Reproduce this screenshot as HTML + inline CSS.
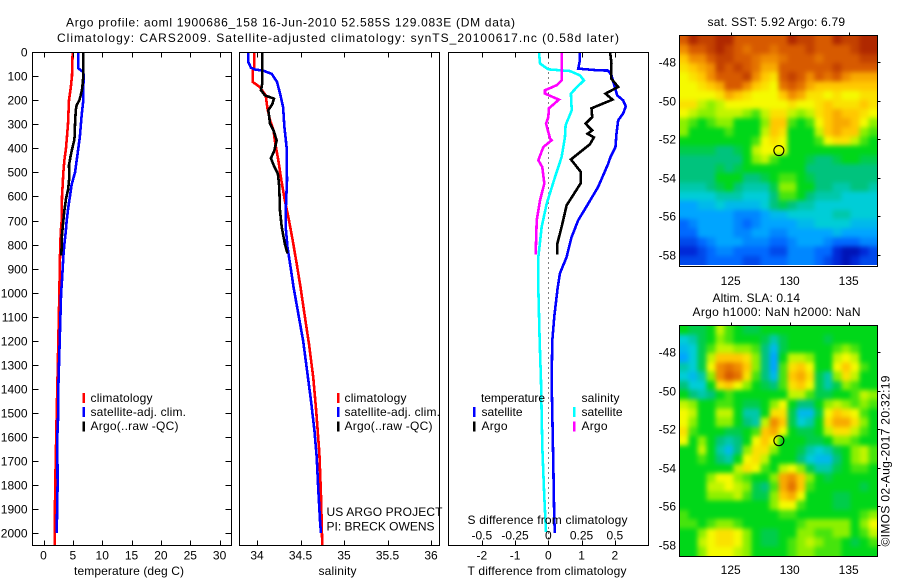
<!DOCTYPE html>
<html lang="en">
<head>
<meta charset="utf-8">
<title>Argo profile</title>
<style>
html,body{margin:0;padding:0;background:#fff;}
body{width:900px;height:580px;overflow:hidden;}
svg{display:block;font-family:"Liberation Sans",Arial,sans-serif;font-size:12px;fill:#000;}
text{white-space:pre;}
</style>
</head>
<body>
<svg id="chart" width="900" height="580" viewBox="0 0 900 580" xmlns="http://www.w3.org/2000/svg">
  <defs>
    <filter id="mapSmooth" filterUnits="userSpaceOnUse" x="640" y="0" width="260" height="580" color-interpolation-filters="sRGB">
      <feGaussianBlur stdDeviation="2.3"/>
    </filter>
    <clipPath id="sstClip"><rect x="680" y="36" width="197" height="229"/></clipPath>
    <clipPath id="slaClip"><rect x="680" y="326" width="197" height="230"/></clipPath>
  </defs>
  <rect x="0" y="0" width="900" height="580" fill="#fff"/>
  <text x="66" y="26.5" textLength="449" lengthAdjust="spacing">Argo profile: aoml 1900686_158 16-Jun-2010 52.585S 129.083E (DM data)</text>
  <text x="57" y="42" textLength="562" lengthAdjust="spacing">Climatology: CARS2009. Satellite-adjusted climatology: synTS_20100617.nc (0.58d later)</text>

  <g id="maps"></g>
  <g id="panels"></g>

  <g>
    <rect x="82.5" y="393" width="2.5" height="10" fill="#ff0000"/>
    <rect x="82.5" y="407" width="2.5" height="10" fill="#0000ff"/>
    <rect x="82.5" y="421.5" width="2.5" height="10" fill="#000"/>
    <text x="90.5" y="402" textLength="62">climatology</text>
    <text x="90.5" y="416" textLength="95.5">satellite-adj. clim.</text>
    <text x="90.5" y="430" textLength="88">Argo(..raw -QC)</text>
  </g>
  <g>
    <rect x="337" y="393" width="2.5" height="10" fill="#ff0000"/>
    <rect x="337" y="407" width="2.5" height="10" fill="#0000ff"/>
    <rect x="337" y="421.5" width="2.5" height="10" fill="#000"/>
    <text x="344.5" y="402" textLength="62">climatology</text>
    <text x="344.5" y="416" textLength="95.5">satellite-adj. clim.</text>
    <text x="344.5" y="430" textLength="88">Argo(..raw -QC)</text>
    <text x="326.5" y="516" textLength="116">US ARGO PROJECT</text>
    <text x="326.5" y="530.5" textLength="108">PI: BRECK OWENS</text>
  </g>
  <g>
    <text x="481" y="402" textLength="64">temperature</text>
    <rect x="473" y="407" width="2.5" height="10" fill="#0000ff"/>
    <text x="481.5" y="416" textLength="41">satellite</text>
    <rect x="473" y="421.5" width="2.5" height="10" fill="#000"/>
    <text x="481.5" y="430" textLength="26">Argo</text>
    <text x="581.5" y="402" textLength="38">salinity</text>
    <rect x="573" y="407" width="2.5" height="10" fill="#00ffff"/>
    <text x="581.5" y="416" textLength="41">satellite</text>
    <rect x="573" y="421.5" width="2.5" height="10" fill="#ff00ff"/>
    <text x="581.5" y="430" textLength="26">Argo</text>
  </g>

  <text x="74" y="575" textLength="110">temperature (deg C)</text>
  <text x="318.5" y="575" textLength="38">salinity</text>
  <text x="467.5" y="524" textLength="160">S difference from climatology</text>
  <text x="467.5" y="575" textLength="159">T difference from climatology</text>

  <text x="707.5" y="26" textLength="137.5">sat. SST: 5.92 Argo: 6.79</text>
  <text x="712.5" y="302" textLength="87.5">Altim. SLA: 0.14</text>
  <text x="692.5" y="316" textLength="168">Argo h1000: NaN h2000: NaN</text>
  <text transform="translate(889.5,546.5) rotate(-90)" x="0" y="0" textLength="171">©IMOS 02-Aug-2017 20:32:19</text>
</svg>

<script>
// ---- Depth axis ----
const depthTicks = [0,100,200,300,400,500,600,700,800,900,1000,1100,1200,1300,1400,1500,1600,1700,1800,1900,2000];

// ---- Temperature panel ----
const tempTicks = [0,5,10,15,20,25,30];
const tempClimDepth = [0,100,150,200,300,350,400,450,500,550,600,700,750,850,1000,1400,1500,1800,2000,2050];
const tempClimValue = [4.97,4.85,4.63,4.34,4.17,4.0,3.83,3.55,3.38,3.27,3.15,3.1,2.93,2.81,2.7,2.35,2.25,2.0,1.9,1.9];
const tempSatDepth = [0,67,82,100,150,200,262,350,400,450,500,550,600,650,700,750,800,850,950,1000,1400,1500,1600,1800,2000];
const tempSatValue = [5.93,5.93,6.78,6.85,6.78,6.78,6.5,6.2,5.93,5.65,5.37,4.8,4.5,4.2,3.95,3.78,3.55,3.38,3.15,3.0,2.52,2.52,2.35,2.4,2.25];
const tempArgoDepth = [0,100,150,180,200,220,240,300,350,370,400,430,470,520,570,610,660,700,760,845];
const tempArgoValue = [6.78,6.78,6.6,6.33,6.1,5.65,5.5,5.37,5.3,5.2,4.9,4.63,4.34,4.4,4.2,3.83,3.55,3.38,3.15,3.04];

// ---- Salinity panel ----
const salTicks = [34,34.5,35,35.5,36];
const salClimDepth = [0,67,72,123,144,179,234,283,325,380,449,533,616,685,782,879,977,1100,1220,1355,1490,1669,1850,2050];
const salClimValue = [33.97,33.97,33.95,33.95,34.03,34.1,34.12,34.15,34.19,34.21,34.245,34.28,34.32,34.36,34.41,34.456,34.5,34.55,34.6,34.647,34.68,34.717,34.736,34.75];
const salSatDepth = [0,40,64,72,76,90,123,172,228,311,394,533,658,727,810,880,977,1200,1365,1448,1573,1684,1823,1948,2000];
const salSatValue = [33.9,33.9,33.93,33.98,34.07,34.17,34.23,34.265,34.3,34.315,34.34,34.345,34.33,34.33,34.35,34.38,34.42,34.53,34.59,34.62,34.66,34.686,34.705,34.724,34.735];
const salArgoDepth = [0,130,158,179,193,216,241,297,325,366,408,441,477,505,560,658,727,797,837];
const salArgoValue = [34.06,34.06,34.046,34.09,34.195,34.176,34.13,34.15,34.19,34.226,34.2,34.16,34.2,34.24,34.256,34.264,34.284,34.32,34.35];

// ---- Difference panel ----
const tDiffTicks = [-2,-1,0,1,2];
const sDiffTicks = [-0.5,-0.25,0,0.25,0.5];
const sDiffLabels = ['-0.5','-0.25','0','0.25','0.5'];
const tDiffSatDepth = [0,33,68,75,76,96,144,179,200,225,255,283,339,394,436,464,560,630,699,769,852,920,982,1100,1200,1365,1503,1711,1948,2000];
const tDiffSatValue = [0.95,0.95,0.9,1.5,1.8,1.9,2.0,2.07,2.25,2.33,2.25,2.1,2.05,2.02,1.87,1.8,1.5,1.2,0.9,0.7,0.55,0.35,0.28,0.18,0.12,0.1,0.12,0.15,0.18,0.2];
const tDiffArgoDepth = [0,47,109,144,172,197,233,270,297,325,339,354,383,446,498,546,637,727,797,841];
const tDiffArgoValue = [1.86,1.9,1.89,2.1,1.72,1.93,1.3,1.32,1.12,1.32,1.18,1.37,1.25,0.68,0.98,0.97,0.55,0.4,0.27,0.27];
const sDiffSatDepth = [0,47,71,78,96,117,146,172,241,304,354,436,520,630,727,852,982,1200,1365,1643,1851,1997];
const sDiffSatValue = [-0.07,-0.062,0,0.163,0.238,0.268,0.213,0.17,0.176,0.13,0.125,0.1,0.05,-0.012,-0.05,-0.075,-0.075,-0.065,-0.055,-0.045,-0.03,-0.017];
const sDiffArgoDepth = [0,117,137,158,172,197,233,270,297,358,366,394,449,478,546,616,699,841];
const sDiffArgoValue = [0.1,0.1,0.063,-0.025,-0.025,0.08,0.005,0,-0.017,0.013,0.025,-0.037,-0.075,-0.045,-0.03,-0.062,-0.087,-0.095];

// ---- Maps ----
const lonTicks = [125,130,135];
const latTicks = [-48,-50,-52,-54,-56,-58];
const floatLon = [129.083];
const floatLat = [-52.585];

const sstGrid = [
[11,12,11.5,11.5,12,12,11,11,11,11,11,11,12,11.5,11.5,11,11,12,11.5,11.5,12,12],
[10,11,11,11.5,12,11.5,11,10.5,11,11,10.5,11,11,11,11.5,11,11,11,11,11.5,12,12],
[9,10,10,11,11.5,11.5,11,11,10.5,10,10,10.5,11,11,11,10.5,11,11,11,11,11.5,11.5],
[8.5,9,9.5,10,11.5,11,11.5,11,10.5,9.5,9.5,11,11,11,11,11,11,11.5,11,11,11,11],
[8,8.5,9,10,11,11,11,11.5,10,9,8.5,11,11.5,11,10,11,10.5,11,10,9.5,9.5,9.5],
[8,8,8.5,9,9.5,11,11,10,9,8.5,8,10.5,11,10.5,9.5,9,9,9,9,9,9,9],
[8,8,8,8,8.5,9.5,9,8.5,8,8,8,9,10,9.5,8.5,8.5,8,8.5,8,8,8.5,8.5],
[8.5,8.5,7.5,7,7.5,8,8,8,8,8,8,8,8.5,8,8,8.5,9,8.5,8.5,8.5,9,8.5],
[8,7.5,7,7,7.5,7.5,7.5,7,6.5,7.5,8.5,8.5,7.5,7,7.5,8.5,9,9.5,9,9,8.5,8],
[7,6.5,6,6.5,7,7,6,6,6,7,9,9,6.5,6,6.5,8,9,9.5,9.5,9,8,7],
[7,6,6,6,6,6.5,6,6,6,7.5,9,8.5,6,6,6,7.5,9,9.5,9,9,7,6.5],
[6,6,6,6,6,6,6,6,6.5,8,8.5,8,6,6,6,6.5,8,8.5,8.5,7.5,6.5,6],
[5.5,5.5,5.5,5.5,5,5,5.5,6,7.5,8,8,8,6,6,6,6,6,6,6,6,6,6],
[5,5,5,5,5,5,5,6,7,7.5,6.5,6,6,6,5.5,5,5,5.5,6,6,5.5,5.5],
[5,5,5,5,5.5,5,5.5,6,6,6,6,6,6,6,5,5,5,5,5,5,5,5],
[5,5,5,5,6,6,6,5,5,5.5,6,6.5,6.5,6,5.5,5,5,5,5,5,5,5],
[4.5,4.5,4.5,5,5.5,6,5,4.5,4.5,4.5,5.5,7,7,6,6,5,5,4.5,4.5,5,5,4.5],
[4,4,4,4,4.5,4.5,4.5,4,4,4,5,6.5,6.5,6,5,4.5,4.5,4.5,4,4,4,4],
[3,3,3.5,3.5,4,3.5,3.5,3.5,3.5,4,5,5.5,5,4.5,4.5,4,4,4,4,4,4,4],
[3,3,3,3,3,3,2.5,2.5,2.5,3,3.5,3.5,4,4,4,4,4,4.5,4.5,4,4,4],
[2,2.5,3,3,3,3,2.5,2,2.5,3,3,3,3,3.5,3.5,4,4,4,4,3.5,3.5,3.5],
[2,2,3,3,3,3,2.5,2.5,3,3,2.5,2.5,3,3,3,3,3,3.5,3,3,3,3],
[1.5,1.5,2,2.5,3,3,3,2.5,2.5,2.5,2,2,2.5,3,3,3,2.5,2,2,2,2.5,2.5],
[1,1,1.5,2,2.5,2.5,2,2,2,2,1.5,1.5,2.5,2.5,2.5,2,2,1,0.5,0.5,1,1.5],
[1.5,1.5,1.5,2,2,2,2,1.5,1.5,2,2,2,2.5,2.5,2.5,2,1.5,1,0.5,1,1.5,1.5]
];

const slaGrid = [
[6,5.5,5.5,6,7.5,6.5,6,5.5,5.5,6,6,6,6,6,6,6,6,6,6,6,6,6],
[4,4.5,5.5,6,7,6.5,6,6,6,5.5,4.5,5.5,6,6,6,6,5.5,6,6,6,6,6],
[3.5,4,5.5,6.5,7.5,7.5,7,7,6.5,5,3.5,5.5,6,6,6,6,6,6.5,7,6.5,6,6],
[3,4,5.5,7.5,9,9,9,8.5,7,5,3,6,7.5,7.5,7,6,6,7.5,8,7.5,6,6],
[4.5,4,5.5,8,10,10.5,10,9,7,5,3,6.5,8.5,9,8,6,6,8,9,8,6.5,6],
[4,3.5,4.5,7,10,11,10.5,8.5,6.5,5,3.5,6.5,9,9.5,8.5,5.5,4.5,7,8.5,7.5,6,6],
[5,4,4,6,8.5,9,8,7,6,5.5,5,6.5,8.5,9,8,5.5,4.5,5.5,7,6.5,6,6],
[6,5,4.5,5,6,6.5,6,6,6,6,6,6,7.5,7.5,6.5,5.5,5.5,6,6,6.5,7.5,7],
[7.5,7,6,6,6.5,6.5,6,5.5,5.5,6,7,8,6,5,5,6,7,7.5,7,6.5,7,6.5],
[8,7.5,6,6,7.5,7.5,6,4.5,4.5,6,8.5,8.5,5.5,3.5,3.5,5.5,8,9,8.5,8,6.5,6],
[8,7,6,6,7,7,6,5,4.5,7.5,10,9,5.5,4,4.5,6,8.5,9.5,9.5,8.5,7,6],
[8.5,6.5,6,6,6,5.5,5.5,6,6.5,9,9.5,8,6,5.5,5.5,6,7.5,8.5,8.5,7.5,6.5,6],
[8,6,7,6,5,4.5,5,6,8,9,8,6,6,6,5.5,5.5,6,7,7,6.5,6,6],
[6,6,7.5,6,4.5,3.5,5,7,8.5,8.5,7,6,6,5.5,4.5,4,4.5,5.5,6,7,7.5,6.5],
[6,6,6.5,6,5,4.5,6,8,8.5,7.5,6,6,6,5,4,3.5,3.5,5,6,7,7.5,6.5],
[6,6,6,6,6,6,7.5,8.5,8,6.5,6,7.5,8,7,5.5,4.5,4.5,5.5,6,6.5,6.5,6],
[6,6,6,7,8,8,7,6.5,6,6,7,9.5,10,9,7,6,5.5,6,6,6,6,6],
[6,6,6,7.5,7.5,8,7.5,7,5.5,5,6.5,9.5,10.5,9,6.5,6,6,6,6,6,5.5,6],
[6,6,6,7,7,7,7.5,6.5,5.5,5.5,7,9,9.5,8,6,6,6,5.5,5.5,6,6,6],
[6,6,6,6,6,6,6,6,6,6,7,8,8,6.5,6,6,6,5.5,5.5,6,6,6],
[6.5,6,6,6,6,6,6,6,6,6,6,6.5,6.5,6,6,6,6,6,6,6,6.5,7],
[6.5,6.5,6,6.5,7,7,6.5,6,6,6,6,6,6,6.5,7,7,7,7,7,6,7,8],
[6,6,7,8,8.5,8.5,8,7,6,5.5,5.5,6,6,7,7,6.5,6.5,7,7,6,6.5,7.5],
[6,6,7.5,8,8.5,8.5,8,7,6,5.5,5.5,6,6.5,7,7.5,7,6.5,6.5,6,5.5,6,6.5],
[6,6,7,8,8,8,7.5,7,6,6,6,6,6.5,7,7,6.5,6.5,6.5,6,6,6,6]
];

// ---- Rendering ----
const NS = 'http://www.w3.org/2000/svg';
const panelsGroup = document.getElementById('panels');
const mapsGroup = document.getElementById('maps');

function depthToY(d){ return 52.3 + d * 0.2403; }
function tempToX(t){ return 43.5 + t * 5.87; }
function salToX(s){ return 257 + (s - 34) * 87; }
function tDiffToX(t){ return 548.3 + t * 33.25; }
function sDiffToX(s){ return 548.3 + s * 133; }

function make(tag, attrs, parent){
  const el = document.createElementNS(NS, tag);
  for (const k in attrs) el.setAttribute(k, attrs[k]);
  parent.appendChild(el);
  return el;
}

function drawBox(parent, x0, y0, x1, y1, name){
  const el = make('rect', {x:x0, y:y0, width:x1-x0, height:y1-y0, fill:'none', stroke:'#000', 'stroke-width':1, 'shape-rendering':'crispEdges'}, parent);
  
  
  return el;
}
function drawTick(parent, x0, y0, x1, y1){
  const el = make('line', {x1:x0, y1:y0, x2:x1, y2:y1, stroke:'#000', 'stroke-width':1, 'shape-rendering':'crispEdges'}, parent);
  
  
}
function drawLabel(parent, x, y, str, anchor){
  const el = make('text', {x:x, y:y, 'text-anchor':anchor}, parent);
  el.textContent = str;
  
  
}
function drawSeries(parent, depths, values, xFn, color, name){
  const pts = depths.map(function(d, i){ return xFn(values[i]).toFixed(2) + ',' + depthToY(d).toFixed(2); }).join(' ');
  const el = make('polyline', {points:pts, fill:'none', stroke:color, 'stroke-width':2.6, 'stroke-linejoin':'miter', 'shape-rendering':'crispEdges'}, parent);
  
  
}

const plotTop = 52.5, plotBottom = 545.5;

// Temperature panel
(function(){
  const g = make('g', {}, panelsGroup);
  
  
  drawSeries(g, tempClimDepth, tempClimValue, tempToX, '#ff0000', 'temperature-climatology-line');
  drawSeries(g, tempSatDepth, tempSatValue, tempToX, '#0000ff', 'temperature-satellite-line');
  drawSeries(g, tempArgoDepth, tempArgoValue, tempToX, '#000000', 'temperature-argo-line');
  drawBox(g, 32.5, plotTop, 231.5, plotBottom, 'temperature-plot-frame');
  depthTicks.forEach(function(d){
    const y = Math.round(depthToY(d)) + 0.5;
    drawTick(g, 32.5, y, 38.5, y);
    drawTick(g, 225.5, y, 231.5, y);
    drawLabel(g, 27.5, y + 4, String(d), 'end');
  });
  tempTicks.forEach(function(t){
    const x = Math.round(tempToX(t)) + 0.5;
    drawTick(g, x, plotTop, x, plotTop + 5);
    drawTick(g, x, plotBottom - 5, x, plotBottom);
    drawLabel(g, tempToX(t), 559.5, String(t), 'middle');
  });
})();

// Salinity panel
(function(){
  const g = make('g', {}, panelsGroup);
  
  
  drawSeries(g, salClimDepth, salClimValue, salToX, '#ff0000', 'salinity-climatology-line');
  drawSeries(g, salSatDepth, salSatValue, salToX, '#0000ff', 'salinity-satellite-line');
  drawSeries(g, salArgoDepth, salArgoValue, salToX, '#000000', 'salinity-argo-line');
  drawBox(g, 239.5, plotTop, 439.5, plotBottom, 'salinity-plot-frame');
  salTicks.forEach(function(s){
    const x = Math.round(salToX(s)) + 0.5;
    drawTick(g, x, plotTop, x, plotTop + 5);
    drawTick(g, x, plotBottom - 5, x, plotBottom);
    drawLabel(g, salToX(s), 559.5, String(s), 'middle');
  });
})();

// Difference panel
(function(){
  const g = make('g', {}, panelsGroup);
  
  
  const zero = make('line', {x1:548.5, y1:plotTop, x2:548.5, y2:plotBottom, stroke:'#000', 'stroke-width':1, 'stroke-dasharray':'1 4', 'shape-rendering':'crispEdges'}, g);
  
  
  drawSeries(g, tDiffSatDepth, tDiffSatValue, tDiffToX, '#0000ff', 'temperature-satellite-difference-line');
  drawSeries(g, tDiffArgoDepth, tDiffArgoValue, tDiffToX, '#000000', 'temperature-argo-difference-line');
  drawSeries(g, sDiffSatDepth, sDiffSatValue, sDiffToX, '#00ffff', 'salinity-satellite-difference-line');
  drawSeries(g, sDiffArgoDepth, sDiffArgoValue, sDiffToX, '#ff00ff', 'salinity-argo-difference-line');
  drawBox(g, 448.5, plotTop, 648.5, plotBottom, 'difference-plot-frame');
  tDiffTicks.forEach(function(t){
    const x = Math.round(tDiffToX(t)) + 0.5;
    drawTick(g, x, plotTop, x, plotTop + 5);
    drawTick(g, x, plotBottom - 5, x, plotBottom);
    drawLabel(g, tDiffToX(t), 559.5, t < 0 ? '-' + Math.abs(t) : String(t), 'middle');
  });
  sDiffTicks.forEach(function(s, i){
    drawLabel(g, sDiffToX(s), 539.5, sDiffLabels[i], 'middle');
  });
})();

// Map colour scale
const colorStops = [
  [0,0,0,150],[1,0,40,215],[2,0,105,255],[3,0,165,255],[4,0,205,215],[5,0,195,125],
  [6,0,215,25],[7,140,240,0],[8,245,250,0],[9,255,200,0],[10,240,140,0],[11,215,90,0],[12,175,40,0]
];
function valueToColor(v){
  const c = Math.max(0, Math.min(12, v));
  const i = Math.min(11, Math.floor(c));
  const f = c - i;
  const a = colorStops[i], b = colorStops[i + 1];
  return 'rgb(' + Math.round(a[1] + (b[1]-a[1])*f) + ',' + Math.round(a[2] + (b[2]-a[2])*f) + ',' + Math.round(a[3] + (b[3]-a[3])*f) + ')';
}

function drawMap(name, grid, clipId, x0, x1, yTop, yBox, imageBottom, lat48Y, latScale, labelBaseline){
  const g = make('g', {}, mapsGroup);
  
  
  const clipGroup = make('g', {'clip-path':'url(#' + clipId + ')'}, g);
  
  
  const cells = make('g', {filter:'url(#mapSmooth)'}, clipGroup);
  
  
  function lonToX(l){ return 730.7 + (l - 125) * 11.8; }
  function latToY(l){ return lat48Y + (-48 - l) * latScale; }
  const lonMin = 125 + (x0 - 730.7) / 11.8;
  const lonMax = 125 + (x1 - 730.7) / 11.8;
  const latMax = -48 + (lat48Y - yTop) / latScale;
  const latMin = -48 + (lat48Y - imageBottom) / latScale;
  const rows = grid.length;
  const dLat = (latMax - latMin) / rows;
  const bleed = 14;
  grid.forEach(function(row, r){
    const dLon = (lonMax - lonMin) / row.length;
    row.forEach(function(v, c){
      let left = lonToX(lonMin + c * dLon);
      let right = lonToX(lonMin + (c + 1) * dLon);
      let top = latToY(latMax - r * dLat);
      let bottom = latToY(latMax - (r + 1) * dLat);
      if (c === 0) left -= bleed;
      if (c === row.length - 1) right += bleed;
      if (r === 0) top -= bleed;
      if (r === rows - 1) bottom += bleed;
      const cell = make('rect', {x:left.toFixed(2), y:top.toFixed(2), width:(right-left+0.4).toFixed(2), height:(bottom-top+0.4).toFixed(2), fill:valueToColor(v), 'shape-rendering':'crispEdges'}, cells);
      
      
    });
  });
  drawBox(g, x0, yTop, x1, yBox, name + '-frame');
  lonTicks.forEach(function(l){
    const x = Math.round(lonToX(l)) + 0.5;
    drawTick(g, x, yTop - 3, x, yTop);
    drawLabel(g, lonToX(l), labelBaseline, String(l), 'middle');
  });
  latTicks.forEach(function(l){
    const y = Math.round(latToY(l)) + 0.5;
    drawTick(g, x1, y, x1 + 3, y);
    drawLabel(g, 676, y + 4, String(l), 'end');
  });
  const marker = make('circle', {cx:lonToX(floatLon[0]).toFixed(2), cy:latToY(floatLat[0]).toFixed(2), r:5, fill:'none', stroke:'#000', 'stroke-width':1.1}, g);
  
  
}

drawMap('sst-map', sstGrid, 'sstClip', 679.5, 877.5, 35.5, 266.5, 265, 62.3, 19.25, 285);
drawMap('sla-map', slaGrid, 'slaClip', 679.5, 877.5, 325.5, 556.5, 556, 352.3, 19.27, 574);
</script>
</body>
</html>
